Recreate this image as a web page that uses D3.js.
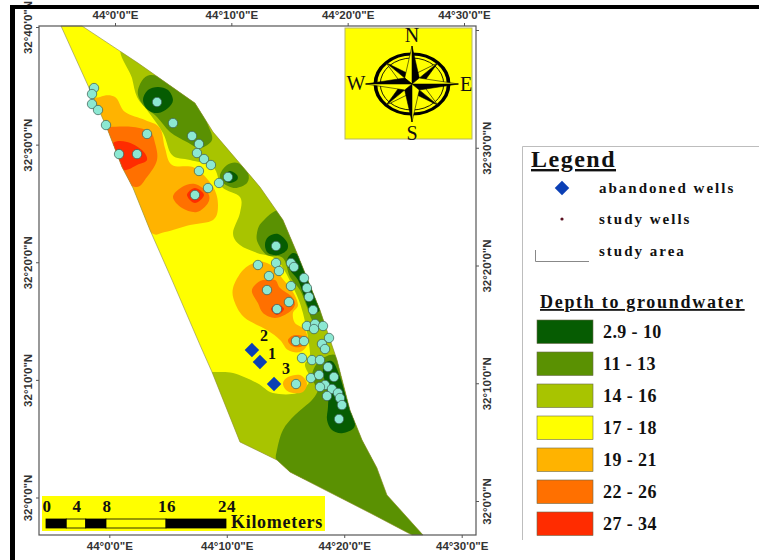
<!DOCTYPE html>
<html>
<head>
<meta charset="utf-8">
<script src="https://cdn.jsdelivr.net/npm/d3@7"></script>
<style>
body { margin: 0; background: #fff; }
text { font-family: "Liberation Serif", serif; font-weight: bold; fill: #111; }
.tick text { font-family: "Liberation Sans", sans-serif; font-size: 11.5px; fill: #333; }
</style>
</head>
<body>
<script>
// everything below in arc minutes: lon past 44 deg E, lat past 32 deg N
var studyArea = [[-4.34,40.17],[-2.55,40.17],[2.21,37.02],[7.06,33.61],[8.60,31.15],[12.59,26.47],[14.55,23.66],[15.74,20.85],[17.70,16.00],[19.15,11.74],[20.25,7.49],[21.28,4.94],[22.55,2.55],[23.40,0.26],[26.47,-3.15],[25.53,-3.15],[22.13,-1.36],[15.15,2.21],[14.04,3.23],[10.89,4.77],[8.51,10.72],[7.49,13.02],[5.11,18.55],[3.23,22.81],[1.79,26.38],[0.85,28.17],[-0.43,31.49],[-1.87,34.72]];

// depth zones, one array per patch
var zone14East = [[1.11,38.12],[8.34,33.87],[16.00,26.21],[21.10,13.45],[25.36,4.08],[16.00,1.53],[10.89,2.38],[6.64,10.72],[8.51,10.72],[10.30,10.64],[12.34,9.79],[13.70,8.94],[15.74,8.94],[16.85,10.04],[16.42,11.32],[16.85,12.34],[16.25,15.74],[15.40,17.96],[14.04,20.25],[12.34,20.85],[10.89,21.53],[10.30,22.55],[10.89,24.25],[10.89,25.62],[9.36,26.47],[8.60,28.17],[6.64,28.76],[5.11,29.19],[4.34,31.06],[2.98,33.02],[2.13,34.13],[1.70,35.74]];
var zone11North = [[3.23,36.00],[2.21,34.72],[2.64,33.44],[3.83,32.42],[4.94,31.15],[6.38,30.30],[7.49,29.79],[8.51,30.47],[8.17,31.74],[7.32,33.61],[5.79,35.15]];
var zone11Mid = [[9.19,27.49],[9.79,28.34],[10.72,28.51],[11.57,27.66],[11.49,26.81],[10.47,26.38],[9.45,26.81]];
var zone11Band = [[12.34,22.55],[12.42,21.70],[13.19,20.68],[14.55,20.42],[15.15,18.81],[16.00,17.70],[16.59,16.25],[17.02,15.15],[17.53,14.47],[18.98,15.32],[17.70,18.55],[16.00,23.23],[14.30,24.51],[12.77,23.49]];
var zone11South = [[18.55,12.17],[17.53,11.57],[17.02,10.47],[17.28,9.62],[17.53,9.19],[17.02,8.34],[15.57,7.06],[14.55,5.79],[14.04,4.08],[14.04,3.06],[15.15,1.53],[24.51,-2.72],[27.91,-3.57],[24.51,2.38],[21.96,6.64],[19.83,10.04],[19.23,11.91]];
var zone3North = [[2.64,33.87],[3.06,34.72],[3.91,34.98],[4.77,34.72],[5.19,33.87],[4.77,33.19],[3.91,32.76],[3.06,33.02]];
var zone3Mid = [[9.62,27.49],[10.04,27.83],[10.64,27.49],[10.64,27.06],[10.04,26.81],[9.53,27.06]];
var zone3Spot = [[13.02,21.53],[13.28,22.21],[14.13,22.47],[14.89,21.79],[14.89,21.10],[14.13,20.68],[13.28,20.85]];
var zone3Band = [[15.40,20.85],[14.89,20.25],[15.15,19.40],[15.83,18.55],[16.25,17.45],[16.85,16.00],[17.70,16.00],[17.36,17.70],[16.85,19.23],[16.00,20.51]];
var zone3South = [[18.81,11.57],[18.13,11.49],[17.96,10.64],[18.38,8.94],[18.38,7.74],[18.30,6.64],[18.72,5.79],[19.66,5.53],[20.68,6.21],[20.00,8.34],[19.40,10.30]];
var zone19North = [[-1.02,34.13],[0.26,34.13],[1.11,32.85],[2.81,32.17],[4.08,31.49],[4.51,29.79],[5.11,28.34],[7.06,28.08],[8.60,26.47],[9.02,24.93],[8.60,23.66],[6.64,23.23],[4.51,22.64],[3.23,22.64],[0.68,25.36],[-2.30,33.02]];
var zone19South = [[12.34,20.08],[11.15,19.40],[10.30,17.87],[10.47,16.59],[11.32,15.32],[13.19,14.30],[14.30,13.45],[14.98,12.59],[16.00,12.42],[16.68,13.19],[16.42,14.30],[15.57,14.89],[15.40,15.74],[15.83,16.42],[15.40,17.53],[14.47,18.72],[14.04,19.40],[13.19,20.00]];
var zone19Spot = [[14.55,9.79],[14.98,10.30],[16.00,10.47],[16.59,9.79],[16.25,9.02],[15.40,8.94],[14.81,9.19]];
var zone22North = [[-0.17,31.57],[1.79,31.57],[3.23,31.15],[3.66,30.21],[3.83,28.76],[2.98,27.32],[1.96,26.47],[-0.17,27.91],[-1.45,31.32]];
var zone22Mid = [[5.19,25.62],[5.96,26.47],[7.06,26.72],[8.17,25.96],[8.17,25.10],[7.23,24.34],[5.96,24.68]];
var zone22South = [[12.17,18.13],[11.91,17.53],[12.42,16.59],[12.85,15.74],[13.87,15.32],[14.98,15.74],[15.57,16.42],[15.32,17.11],[14.30,17.87],[13.87,18.55],[12.85,18.55]];
var zone22Spot = [[14.98,13.45],[15.57,13.87],[16.59,13.70],[16.68,13.28],[16.00,12.85],[15.32,12.94]];
var zone27North = [[0.09,30.21],[1.28,30.30],[2.55,29.61],[2.98,28.76],[2.13,28.34],[0.94,27.91],[-0.60,28.76]];
var zone27Mid = [[6.38,25.79],[7.06,26.38],[7.83,25.79],[7.06,25.10]];
var zone27South = [[13.53,16.08],[14.04,16.51],[14.64,16.08],[14.04,15.57]];

var studyWells = [[-1.53,34.89],[-1.70,34.38],[-1.70,33.53],[-1.19,33.02],[-0.51,31.74],[2.98,30.98],[0.60,29.27],[2.13,29.27],[3.83,33.70],[5.19,31.91],[6.81,30.81],[7.40,30.13],[7.23,29.36],[7.83,28.85],[8.42,28.34],[7.40,27.83],[9.87,27.32],[9.11,26.81],[8.17,26.38],[7.06,25.79],[13.96,21.45],[12.42,19.83],[13.96,20.00],[14.21,19.32],[13.36,18.89],[15.23,20.00],[15.49,19.66],[16.34,18.72],[16.59,17.87],[15.23,18.04],[13.19,17.70],[16.76,17.11],[15.06,16.68],[14.04,16.08],[17.11,16.00],[16.59,14.64],[17.28,14.81],[17.19,14.38],[17.96,14.64],[18.47,13.62],[15.66,13.36],[16.34,13.36],[17.87,13.11],[18.13,12.68],[16.17,11.91],[17.02,11.74],[17.70,11.74],[18.38,11.15],[16.93,10.21],[17.62,10.47],[18.89,10.30],[15.66,9.70],[18.13,9.62],[17.70,9.45],[18.72,9.28],[19.23,8.94],[19.40,8.51],[18.30,8.68],[19.57,7.91],[19.32,6.72]];
var abandonedWells = [[11.91,12.59],[12.59,11.57],[13.79,9.70]];
var abandonedNames = ["2", "1", "3"];

var legendLabels = ["2.9 - 10", "11 - 13", "14 - 16", "17 - 18", "19 - 21", "22 - 26", "27 - 34"];
var legendColors = ["#065c02", "#5a9102", "#a8c400", "#ffff00", "#ffb300", "#ff7000", "#ff2c00"];

var lonTicks = [0, 10, 20, 30];
var latTicks = [0, 10, 20, 30, 40];
var scaleLabels = [0, 4, 8, 16, 24];
var scaleBreaks = [0, 2.7, 5.3, 8, 16, 24];

var svg = d3.select("body").append("svg").attr("width", 759).attr("height", 560).style("display", "block");

// the source picture is slightly sheared so each side gets its own axis scale
var x = d3.scaleLinear().domain([0, 30]).range([112, 464.5]);
var y = d3.scaleLinear().domain([0, 40]).range([498, 28]);
var xTop = d3.scaleLinear().domain([0, 30]).range([115, 464]);
var xBottom = d3.scaleLinear().domain([0, 30]).range([109.3, 461.7]);
var yLeft = d3.scaleLinear().domain([0, 40]).range([497.5, 27]);
var yRight = d3.scaleLinear().domain([0, 40]).range([501, 30]);

var line = d3.line().x(function(d) { return x(d[0]); }).y(function(d) { return y(d[1]); });
var blob = d3.line().x(function(d) { return x(d[0]); }).y(function(d) { return y(d[1]); }).curve(d3.curveCatmullRomClosed.alpha(0));

svg.append("clipPath").attr("id", "area").append("path").attr("d", line(studyArea) + "Z");

// base colour then painted patches, low to high
svg.append("path").attr("d", line(studyArea) + "Z").attr("fill", legendColors[3]);

var patches = [
    [zone14East, 2],
    [zone11North, 1], [zone11Mid, 1], [zone11Band, 1], [zone11South, 1],
    [zone3North, 0], [zone3Mid, 0], [zone3Spot, 0], [zone3Band, 0], [zone3South, 0],
    [zone19North, 4], [zone19South, 4], [zone19Spot, 4],
    [zone22North, 5], [zone22Mid, 5], [zone22South, 5], [zone22Spot, 5],
    [zone27North, 6], [zone27Mid, 6], [zone27South, 6]
];
svg.append("g").attr("clip-path", "url(#area)")
    .selectAll("path").data(patches).enter().append("path")
    .attr("d", function(d) { return blob(d[0]); })
    .attr("fill", function(d) { return legendColors[d[1]]; });

svg.append("path").attr("d", line(studyArea) + "Z").attr("fill", "none").attr("stroke", "#8a8a50").attr("stroke-width", 0.6);

// wells
svg.append("g").selectAll("circle").data(studyWells).enter().append("circle")
    .attr("cx", function(d) { return x(d[0]); })
    .attr("cy", function(d) { return y(d[1]); })
    .attr("r", 4.7)
    .attr("fill", "#8ce8d2")
    .attr("stroke", "#3a5a50")
    .attr("stroke-width", 0.7);

var diamond = d3.symbol().type(d3.symbolSquare).size(105);
svg.append("g").selectAll("path").data(abandonedWells).enter().append("path")
    .attr("d", diamond)
    .attr("transform", function(d) { return "translate(" + x(d[0]) + "," + y(d[1]) + ") rotate(45)"; })
    .attr("fill", "#0b3fb5");

svg.append("g").selectAll("text").data(abandonedWells).enter().append("text")
    .attr("x", function(d, i) { return x(d[0]) + 12; })
    .attr("y", function(d, i) { return y(d[1]) + [-9, -3, -10][i]; })
    .attr("text-anchor", "middle")
    .style("font-size", "16px")
    .text(function(d, i) { return abandonedNames[i]; });

// map frame and graticule labels
svg.append("rect").attr("x", 39).attr("y", 26).attr("width", 437).attr("height", 509)
    .attr("fill", "none").attr("stroke", "#555").attr("stroke-width", 1.2);

var lonFormat = function(d) { return "44\u00b0" + d + "'0\"E"; };
var latFormat = function(d) { return "32\u00b0" + d + "'0\"N"; };

function tidy(g) {
    g.select(".domain").remove();
    g.selectAll("line").attr("stroke", "#555");
}

svg.append("g").attr("transform", "translate(0,26)")
    .call(d3.axisTop(xTop).tickValues(lonTicks).tickFormat(lonFormat).tickSize(3).tickPadding(4)).call(tidy);
svg.append("g").attr("transform", "translate(0,535)")
    .call(d3.axisBottom(xBottom).tickValues(lonTicks).tickFormat(lonFormat).tickSize(3).tickPadding(4)).call(tidy);
svg.append("g").attr("transform", "translate(39,0)")
    .call(d3.axisLeft(yLeft).tickValues(latTicks).tickFormat(latFormat).tickSize(3)).call(tidy)
    .selectAll("text").attr("x", 0).attr("dy", 0)
    .attr("transform", "translate(-7,0) rotate(-90)").attr("text-anchor", "middle");
svg.append("g").attr("transform", "translate(476,0)")
    .call(d3.axisRight(yRight).tickValues(latTicks)
        .tickFormat(function(d) { return d == 40 ? "" : latFormat(d); }).tickSize(3)).call(tidy)
    .selectAll("text").attr("x", 0).attr("dy", 0)
    .attr("transform", "translate(15,0) rotate(-90)").attr("text-anchor", "middle");

// heavy outer edge
svg.append("rect").attr("x", 10).attr("y", 5).attr("width", 749).attr("height", 4).attr("fill", "#000");
svg.append("rect").attr("x", 10).attr("y", 5).attr("width", 5).attr("height", 555).attr("fill", "#000");

// north arrow
var north = svg.append("g");
north.append("rect").attr("x", 345).attr("y", 28).attr("width", 127).attr("height", 111)
    .attr("fill", "#ffff00").attr("stroke", "#b5b56a").attr("stroke-width", 1);
var rose = north.append("g").attr("transform", "translate(412,84) scale(1.22,1)");
rose.append("circle").attr("r", 30).attr("fill", "none").attr("stroke", "#000").attr("stroke-width", 3);
rose.append("circle").attr("r", 26).attr("fill", "none").attr("stroke", "#000").attr("stroke-width", 0.8);
[45, 135, 225, 315, 0, 90, 180, 270].forEach(function(a) {
    var long = a % 90 == 0;
    var r = long ? 38 : 30, w = long ? 6 : 6;
    var spike = rose.append("g").attr("transform", "rotate(" + a + ")");
    spike.append("path").attr("d", "M0,0L0," + (-r) + "L" + w + "," + (-w) + "Z").attr("fill", "#000").attr("stroke", "#000").attr("stroke-width", 0.5);
    spike.append("path").attr("d", "M0,0L0," + (-r) + "L" + (-w) + "," + (-w) + "Z").attr("fill", "#ffff00").attr("stroke", "#000").attr("stroke-width", 0.5);
});
north.selectAll("text").data([["N", 412, 42], ["S", 412, 140], ["W", 356, 90], ["E", 466, 91]]).enter().append("text")
    .attr("x", function(d) { return d[1]; })
    .attr("y", function(d) { return d[2]; })
    .attr("text-anchor", "middle")
    .style("font-size", "20px")
    .style("font-weight", "normal")
    .text(function(d) { return d[0]; });

// scale bar
var km = d3.scaleLinear().domain([0, 24]).range([46, 226]);
var bar = svg.append("g");
bar.append("rect").attr("x", 42).attr("y", 496).attr("width", 283).attr("height", 35).attr("fill", "#ffff00");
bar.selectAll("rect.seg").data(d3.pairs(scaleBreaks)).enter().append("rect")
    .attr("class", "seg")
    .attr("x", function(d) { return km(d[0]); })
    .attr("width", function(d) { return km(d[1]) - km(d[0]); })
    .attr("y", 519).attr("height", 9)
    .attr("fill", function(d, i) { return i % 2 ? "#ffff00" : "#000"; })
    .attr("stroke", "#000").attr("stroke-width", 0.8);
bar.selectAll("text.lab").data(scaleLabels).enter().append("text")
    .attr("class", "lab")
    .attr("x", function(d) { return km(d) + 1; })
    .attr("y", 512)
    .attr("text-anchor", "middle")
    .style("font-size", "17px")
    .style("letter-spacing", "0.5px")
    .text(function(d) { return d; });
bar.append("text").attr("x", 231).attr("y", 528).style("font-size", "18px").style("letter-spacing", "0.7px").text("Kilometers");

// legend
var legend = svg.append("g");
legend.append("path").attr("d", "M759,146.5H522.5V540").attr("fill", "none").attr("stroke", "#bdbdbd").attr("stroke-width", 1);
legend.append("text").attr("x", 531).attr("y", 167).style("font-size", "24px").style("letter-spacing", "1.5px").style("text-decoration", "underline").text("Legend");
legend.append("path").attr("d", diamond).attr("transform", "translate(562,188) rotate(45)").attr("fill", "#0b3fb5");
legend.append("circle").attr("cx", 562).attr("cy", 219).attr("r", 1.6).attr("fill", "#5a1020");
legend.append("path").attr("d", "M535.5,250V261.5H589").attr("fill", "none").attr("stroke", "#888").attr("stroke-width", 1);
legend.selectAll("text.sym").data([["abandoned wells", 193], ["study wells", 224], ["study area", 256]]).enter().append("text")
    .attr("class", "sym")
    .attr("x", 599)
    .attr("y", function(d) { return d[1]; })
    .style("font-size", "15px")
    .style("letter-spacing", "2px")
    .text(function(d) { return d[0]; });
legend.append("text").attr("x", 540).attr("y", 308).style("font-size", "18px").style("letter-spacing", "1.7px").style("text-decoration", "underline").text("Depth to groundwater");

var row = d3.scaleBand().domain(legendLabels).range([320, 544]).paddingInner(0);
legend.selectAll("rect.swatch").data(legendLabels).enter().append("rect")
    .attr("class", "swatch")
    .attr("x", 537).attr("width", 56)
    .attr("y", function(d) { return row(d); })
    .attr("height", 23.5)
    .attr("fill", function(d, i) { return legendColors[i]; })
    .attr("stroke", "#6a6a4a").attr("stroke-width", 0.6);
legend.selectAll("text.lab").data(legendLabels).enter().append("text")
    .attr("class", "lab")
    .attr("x", 603)
    .attr("y", function(d) { return row(d) + 18; })
    .style("font-size", "18px")
    .style("letter-spacing", "0.4px")
    .text(function(d) { return d; });
</script>
</body>
</html>
